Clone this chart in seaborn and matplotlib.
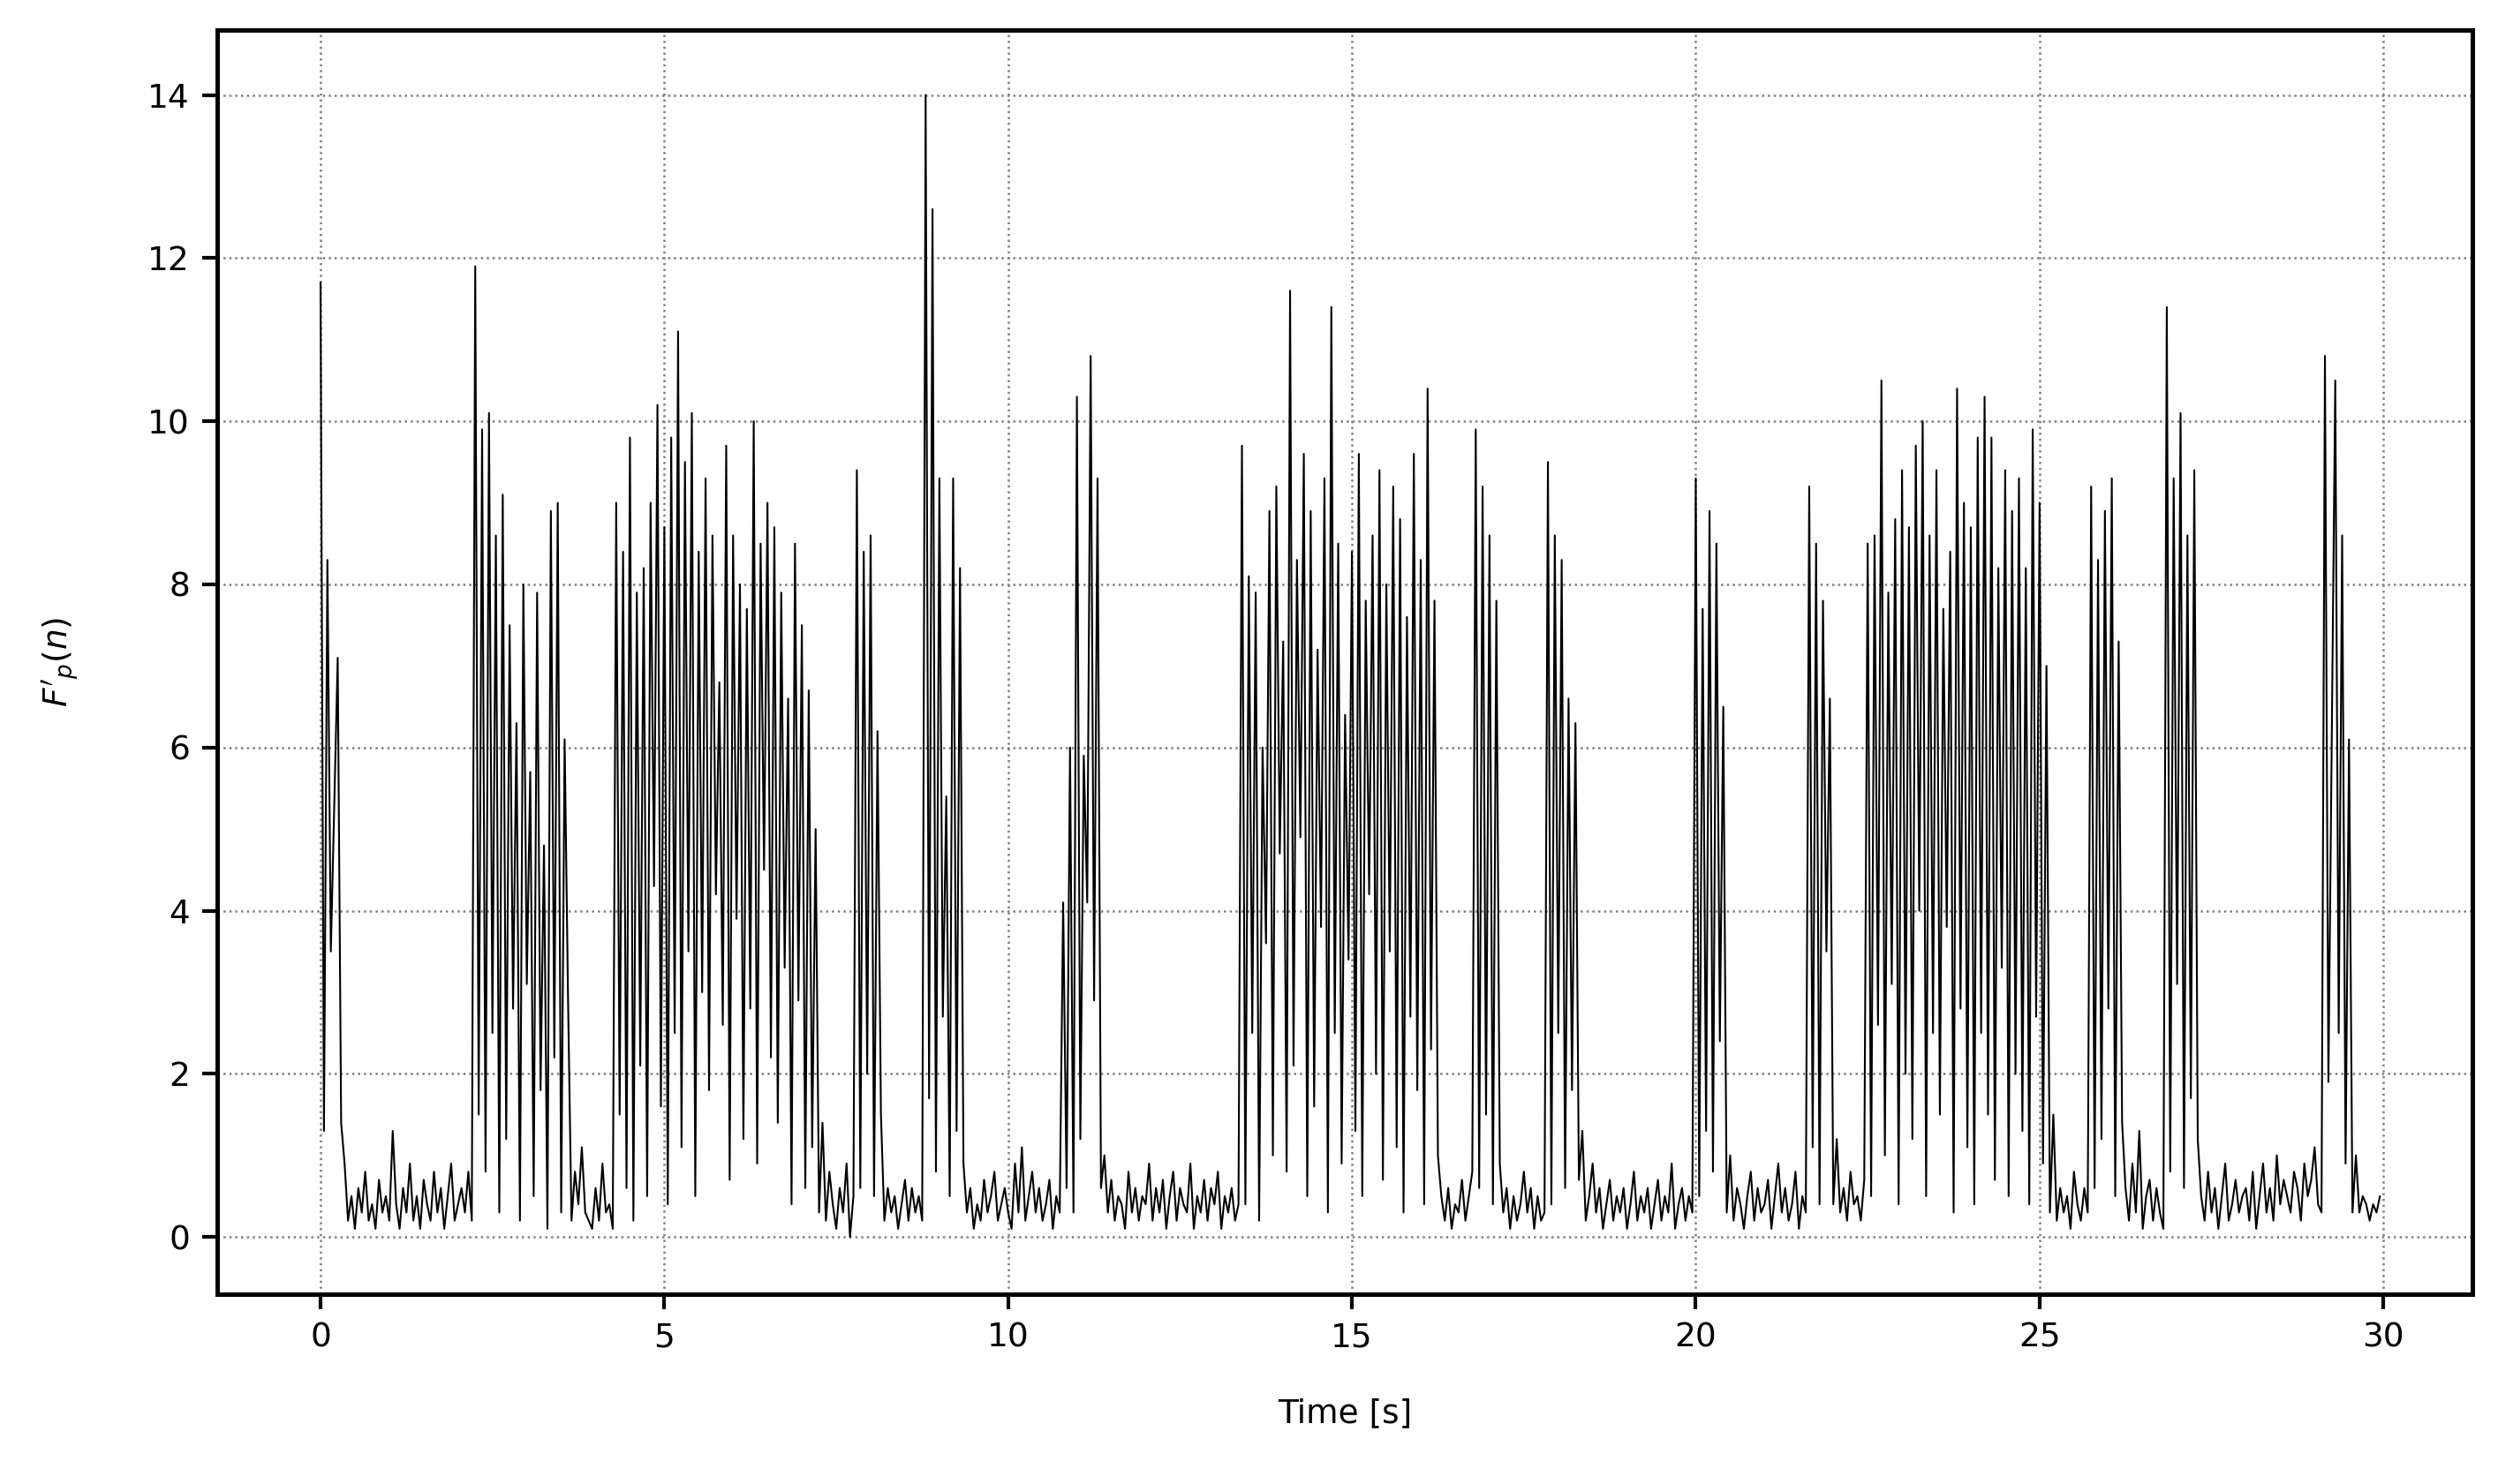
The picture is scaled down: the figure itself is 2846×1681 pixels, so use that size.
import numpy as np
import pandas as pd
import seaborn as sns
import matplotlib
matplotlib.use("Agg")
import matplotlib.pyplot as plt

sample_period = 0.05
signal = [
11.7,1.3,8.3,3.5,5.3,7.1,1.4,0.9,0.2,0.5,0.1,0.6,0.3,0.8,0.2,0.4,0.1,0.7,0.3,0.5,
0.2,1.3,0.4,0.1,0.6,0.3,0.9,0.2,0.5,0.1,0.7,0.4,0.2,0.8,0.3,0.6,0.1,0.5,0.9,0.2,
0.4,0.6,0.3,0.8,0.2,11.9,1.5,9.9,0.8,10.1,2.5,8.6,0.3,9.1,1.2,7.5,2.8,6.3,0.2,8.0,
3.1,5.7,0.5,7.9,1.8,4.8,0.1,8.9,2.2,9.0,0.3,6.1,2.9,0.2,0.8,0.4,1.1,0.3,0.2,0.1,
0.6,0.2,0.9,0.3,0.4,0.1,9.0,1.5,8.4,0.6,9.8,0.2,7.9,2.1,8.2,0.5,9.0,4.3,10.2,1.6,
8.7,0.4,9.8,2.5,11.1,1.1,9.5,3.5,10.1,0.5,8.4,3.0,9.3,1.8,8.6,4.2,6.8,2.6,9.7,0.7,
8.6,3.9,8.0,1.2,7.7,2.8,10.0,0.9,8.5,4.5,9.0,2.2,8.7,1.4,7.9,3.3,6.6,0.4,8.5,2.9,
7.5,0.6,6.7,1.1,5.0,0.3,1.4,0.2,0.8,0.4,0.1,0.6,0.3,0.9,0.0,0.5,9.4,0.6,8.4,2.0,
8.6,0.5,6.2,1.5,0.2,0.6,0.3,0.5,0.1,0.4,0.7,0.2,0.6,0.3,0.5,0.2,14.0,1.7,12.6,0.8,
9.3,2.7,5.4,0.5,9.3,1.3,8.2,0.9,0.3,0.6,0.1,0.4,0.2,0.7,0.3,0.5,0.8,0.2,0.4,0.6,
0.3,0.1,0.9,0.3,1.1,0.2,0.5,0.8,0.3,0.6,0.2,0.4,0.7,0.1,0.5,0.3,4.1,0.6,6.0,0.3,
10.3,1.2,5.9,4.1,10.8,2.9,9.3,0.6,1.0,0.3,0.7,0.2,0.5,0.4,0.1,0.8,0.3,0.6,0.2,0.5,
0.4,0.9,0.2,0.6,0.3,0.7,0.1,0.5,0.8,0.2,0.6,0.4,0.3,0.9,0.1,0.5,0.3,0.7,0.2,0.6,
0.4,0.8,0.1,0.5,0.3,0.6,0.2,0.4,9.7,0.4,8.1,2.5,7.9,0.2,6.0,3.6,8.9,1.0,9.2,4.7,
7.3,0.8,11.6,2.1,8.3,4.9,9.6,0.5,8.9,1.6,7.2,3.8,9.3,0.3,11.4,2.5,8.5,0.9,6.4,3.4,
8.4,1.3,9.6,0.5,7.8,4.2,8.6,2.0,9.4,0.7,8.0,3.5,9.2,1.1,8.8,0.3,7.6,2.7,9.6,1.8,
8.3,0.4,10.4,2.3,7.8,1.0,0.5,0.2,0.6,0.1,0.4,0.3,0.7,0.2,0.5,0.8,9.9,0.6,9.2,1.5,
8.6,0.4,7.8,0.9,0.3,0.6,0.1,0.5,0.2,0.4,0.8,0.3,0.6,0.1,0.5,0.2,0.3,9.5,0.4,8.6,
2.5,8.3,0.6,6.6,1.8,6.3,0.7,1.3,0.2,0.5,0.9,0.3,0.6,0.1,0.4,0.7,0.2,0.5,0.3,0.6,
0.1,0.4,0.8,0.2,0.5,0.3,0.6,0.1,0.4,0.7,0.2,0.5,0.3,0.9,0.1,0.4,0.6,0.2,0.5,0.3,
9.3,0.5,7.7,1.3,8.9,0.8,8.5,2.4,6.5,0.3,1.0,0.2,0.6,0.4,0.1,0.5,0.8,0.2,0.6,0.3,
0.4,0.7,0.1,0.5,0.9,0.3,0.6,0.2,0.4,0.8,0.1,0.5,0.3,9.2,1.1,8.5,0.4,7.8,3.5,6.6,
0.4,1.2,0.3,0.6,0.2,0.8,0.4,0.5,0.2,0.7,8.5,0.5,8.6,2.6,10.5,1.0,7.9,3.1,8.8,0.4,
9.4,2.0,8.7,1.2,9.7,4.0,10.0,0.5,8.6,2.5,9.4,1.5,7.7,3.8,8.4,0.3,10.4,2.8,9.0,1.1,
8.7,0.4,9.8,2.5,10.3,1.5,9.8,0.7,8.2,3.3,9.4,0.5,8.9,2.0,9.3,1.3,8.2,0.4,9.9,2.7,
9.0,0.9,7.0,0.3,1.5,0.2,0.6,0.3,0.5,0.1,0.8,0.4,0.2,0.6,0.3,9.2,0.6,8.3,1.2,8.9,
2.8,9.3,0.5,7.3,1.4,0.6,0.2,0.9,0.3,1.3,0.1,0.5,0.7,0.2,0.6,0.3,0.1,11.4,0.8,9.3,
3.1,10.1,0.6,8.6,1.7,9.4,1.2,0.5,0.2,0.8,0.3,0.6,0.1,0.5,0.9,0.2,0.4,0.7,0.3,0.5,
0.6,0.2,0.8,0.1,0.5,0.9,0.3,0.6,0.2,1.0,0.4,0.7,0.5,0.3,0.8,0.6,0.2,0.9,0.5,0.7,
1.1,0.4,0.3,10.8,1.9,6.2,10.5,2.5,8.6,0.9,6.1,0.3,1.0,0.3,0.5,0.4,0.2,0.4,0.3,0.5,
]
time = np.arange(len(signal)) * sample_period
df = pd.DataFrame({"time": time, "value": signal})

sns.set_theme(style="ticks", context="paper")
plt.rcParams["font.family"] = ["DejaVu Sans"]
plt.rcParams["text.color"] = "black"
plt.rcParams["axes.labelcolor"] = "black"
plt.rcParams["xtick.color"] = "black"
plt.rcParams["ytick.color"] = "black"
plt.rcParams["axes.edgecolor"] = "black"

fig = plt.figure(figsize=(2846/300, 1681/300), dpi=300)
ax = fig.add_axes([0.0865, 0.128, 0.8975, 0.852])
sns.lineplot(data=df, x="time", y="value", ax=ax, color="black", linewidth=0.5)
ax.set_xlim(-1.5, 31.3)
ax.set_ylim(-0.7, 14.8)
ax.set_xticks([0, 5, 10, 15, 20, 25, 30])
ax.set_yticks([0, 2, 4, 6, 8, 10, 12, 14])
ax.grid(True, linestyle=":", color="gray", linewidth=0.6)
ax.set_xlabel("Time [s]", fontsize=9, labelpad=12)
ax.set_ylabel(r"$F'_p(n)$", fontsize=9, labelpad=18)
ax.tick_params(labelsize=9, width=1, length=4)
for s in ax.spines.values():
    s.set_linewidth(1.2)
fig.savefig("out.png", dpi=300)
